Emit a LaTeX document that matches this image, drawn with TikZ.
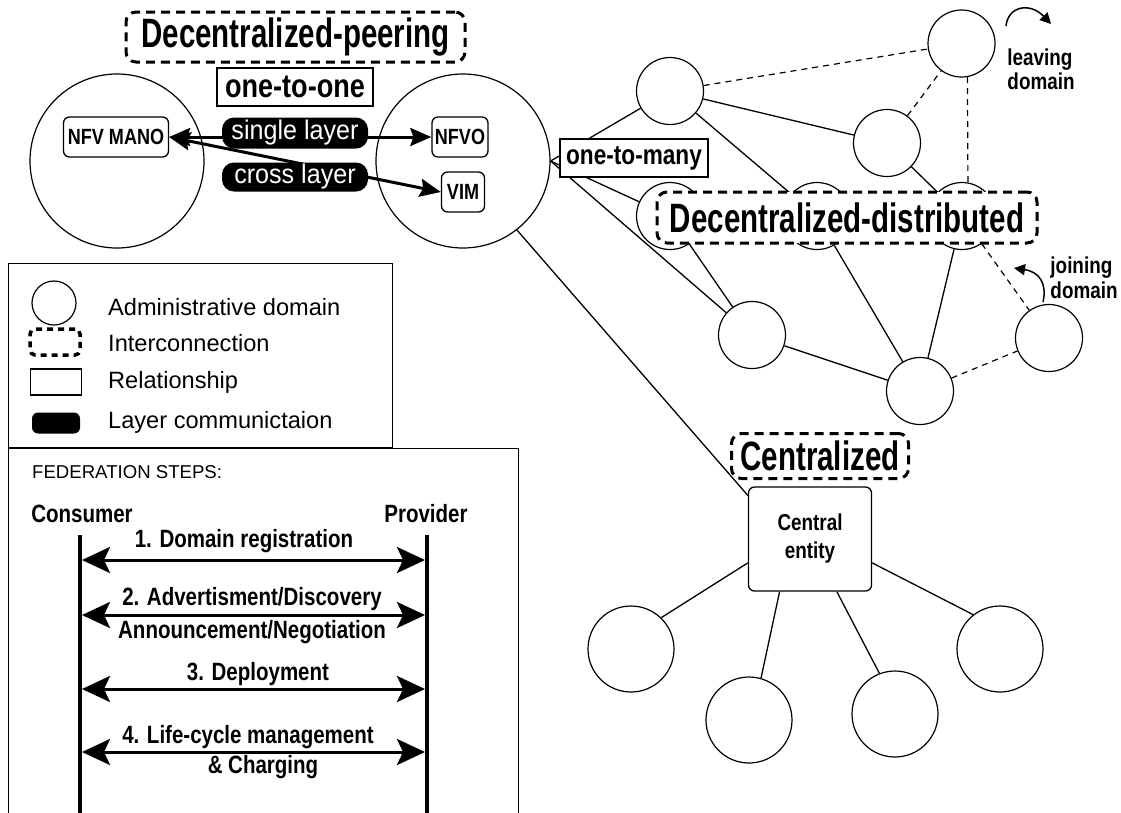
\documentclass[tikz,border=0pt]{standalone}
\usepackage{fontspec}
\setmainfont{Liberation Sans}
\newfontfamily\nbfont[FakeStretch=0.82]{Liberation Sans}
\newfontfamily\ttlfont[FakeStretch=0.72]{Liberation Sans}
\newfontfamily\nrfont[FakeStretch=0.93]{Liberation Sans}
\usetikzlibrary{arrows.meta,calc}
\pgfdeclarelayer{background}
\pgfsetlayers{background,main}
\tikzset{
  dom/.style={circle, draw, line width=1.2pt, inner sep=0pt},
  ttlbox/.style={draw, fill=white, line width=3pt, dash pattern=on 9pt off 6pt, rounded corners=10pt, inner sep=0pt, font=\ttlfont\bfseries\fontsize{41}{45}\selectfont},
  relbox/.style={draw, fill=white, line width=1.3pt, inner sep=0pt},
  fnbox/.style={draw, fill=white, line width=1.3pt, rounded corners=6pt, inner sep=0pt, minimum height=40pt, font=\nbfont\bfseries\fontsize{22}{26}\selectfont},
  pill/.style={fill=black, text=white, rounded corners=12pt, inner sep=0pt, minimum width=146pt, font=\nrfont\fontsize{27}{30}\selectfont},
  pa/.style={line width=3pt, arrows={Stealth[length=21pt,width=18pt,inset=3pt]-Stealth[length=21pt,width=18pt,inset=3pt]}},
  net/.style={line width=1.3pt},
  netd/.style={line width=1.2pt, dash pattern=on 6pt off 5pt},
  curv/.style={line width=1.5pt, arrows={-Triangle[length=11pt,width=11pt]}},
  nb/.style={font=\nbfont\bfseries\fontsize{25}{28}\selectfont, inner sep=0pt},
  legtxt/.style={font=\fontsize{23.6}{26}\selectfont, inner sep=0pt, anchor=base west},
  life/.style={line width=4pt},
  sa/.style={line width=3pt, arrows={Stealth[length=28pt,width=26pt,inset=6pt]-Stealth[length=28pt,width=26pt,inset=6pt]}}
}
\begin{document}
\begin{tikzpicture}[x=1pt,y=-1pt]
\useasboundingbox (0,0) rectangle (1121,812);

% administrative domains (peering)
\node[dom, minimum size=174pt] (lc) at (117,161) {};
\node[dom, minimum size=174pt] (rc) at (463,161) {};

% decentralized-distributed network
\node[dom, minimum size=67pt] (na) at (670,91) {};
\node[dom, minimum size=67pt] (nl) at (961.5,43.5) {};
\node[dom, minimum size=67pt] (nb) at (887,143) {};
\node[dom, minimum size=67pt] (c1) at (670,216) {};
\node[dom, minimum size=67pt] (c2) at (817,216) {};
\node[dom, minimum size=67pt] (c3) at (962,216) {};
\node[dom, minimum size=67pt] (nd) at (752,335) {};
\node[dom, minimum size=67pt] (ne) at (920,391) {};
\node[dom, minimum size=67pt] (nj) at (1049,338) {};

% centralized
\node[draw, fill=white, line width=1.3pt, rounded corners=6pt, minimum width=123pt, minimum height=104pt, inner sep=0pt, align=center, font=\nbfont\bfseries\fontsize{23}{28}\selectfont] (ce) at (810,539) {Central\\entity};
\node[dom, minimum size=86pt] (b1) at (631,649) {};
\node[dom, minimum size=86pt] (b2) at (749,720) {};
\node[dom, minimum size=86pt] (b3) at (895,714) {};
\node[dom, minimum size=86pt] (b4) at (1000,649) {};

% function boxes
\node[fnbox, minimum width=105pt] (mano) at (116,137) {NFV MANO};
\node[fnbox, minimum width=56pt] (nfvo) at (460,137) {NFVO};
\node[fnbox, minimum width=43pt] (vim) at (463,192) {VIM};

% layer pills
\node[pill, minimum height=31pt] (sl) at (295,133) {single layer};
\node[pill, minimum height=29pt] (cl) at (295,177) {cross layer};

% relationship boxes
\node[relbox, minimum width=156pt, minimum height=38pt, font=\nbfont\bfseries\fontsize{33}{36}\selectfont] (o2o) at (295,87) {one-to-one};
\node[relbox, minimum width=148pt, minimum height=38pt, font=\nbfont\bfseries\fontsize{27.6}{30}\selectfont] (o2m) at (634,158) {one-to-many};

% interconnection titles
\node[ttlbox, minimum width=339pt, minimum height=50pt] (tp) at (295.5,37) {Decentralized-peering};
\node[ttlbox, minimum width=380pt, minimum height=51pt] (td) at (847,217.5) {Decentralized-distributed};
\node[ttlbox, minimum width=177pt, minimum height=45pt] (tc) at (820,456) {Centralized};

% leaving / joining
\node[nb, font=\nbfont\bfseries\fontsize{23}{24}\selectfont, align=left] (lvt) at (1041,69) {leaving\\domain};
\node[nb, font=\nbfont\bfseries\fontsize{23}{25}\selectfont, align=left] (jnt) at (1084,278) {joining\\domain};
\coordinate (lvs) at (1006,26);
\coordinate (lve) at (1051,24);
\coordinate (jns) at (1043,302);
\coordinate (jne) at (1014,268);
\draw[curv] (lvs) .. controls (1008,6) and (1030,2) .. (lve);
\draw[curv] (jns) .. controls (1047,284) and (1040,272) .. (jne);

\begin{pgfonlayer}{background}
\draw[pa] (mano.east) -- (nfvo.west);
\draw[pa] (mano.east) -- (vim.west);
\draw[net] (rc.east) -- (na);
\draw[net] (rc.east) -- (c1);
\draw[net] (rc.east) -- (nd);
\draw[net] (na) -- (nb);
\draw[net] (na) -- (c2);
\draw[net] (nb) -- (c3);
\draw[net] (c1) -- (nd);
\draw[net] (c2) -- (ne);
\draw[net] (c3) -- (ne);
\draw[net] (nd) -- (ne);
\draw[netd] (na) -- (nl);
\draw[netd] (nb) -- (nl);
\draw[netd] (nl.-80) -- (c3.80);
\draw[netd] (c3) -- (nj);
\draw[netd] (ne) -- (nj);
\draw[net] (rc.-52) -- (ce.145.5);
\draw[net] (ce.201.5) -- (b1.46);
\draw[net] (ce.240) -- (b2.74);
\draw[net] (ce.297) -- (b3.111);
\draw[net] (ce.339) -- (b4.128);
\end{pgfonlayer}

% legend
\node[draw, line width=1.3pt, minimum width=384pt, minimum height=184pt, inner sep=0pt, anchor=north west] (leg) at (8,263) {};
\node[circle, draw, line width=1.2pt, minimum size=44pt, inner sep=0pt] (ic1) at (54,303) {};
\node[draw, line width=3.5pt, dash pattern=on 6pt off 5pt, rounded corners=5pt, minimum width=50pt, minimum height=26pt, inner sep=0pt] (ic2) at (55,342) {};
\node[draw, line width=1.3pt, minimum width=51pt, minimum height=26pt, inner sep=0pt] (ic3) at (56,382) {};
\node[fill=black, rounded corners=6pt, minimum width=48pt, minimum height=21pt, inner sep=0pt] (ic4) at (56,423) {};
\node[legtxt] (lt1) at (108,315) {Administrative domain};
\node[legtxt] (lt2) at (108,351) {Interconnection};
\node[legtxt] (lt3) at (108,388) {Relationship};
\node[legtxt] (lt4) at (108,428) {Layer communictaion};

% federation steps
\node[draw, line width=1.3pt, minimum width=510pt, minimum height=380pt, inner sep=0pt, anchor=north west] (steps) at (8,448) {};
\node[inner sep=0pt, anchor=base west, font=\fontsize{18.6}{21}\selectfont] (fst) at (32,478) {FEDERATION STEPS:};
\node[nb, anchor=base] (cons) at (82,522) {Consumer};
\node[nb, anchor=base] (prov) at (426,522) {Provider};
\coordinate (ctop) at (80,535);
\coordinate (cbot) at (80,815);
\coordinate (ptop) at (427,535);
\coordinate (pbot) at (427,815);
\draw[life] (ctop) -- (cbot);
\draw[life] (ptop) -- (pbot);
\coordinate (s1c) at (82,560);
\coordinate (s1p) at (425,560);
\coordinate (s2c) at (82,615);
\coordinate (s2p) at (425,615);
\coordinate (s3c) at (82,689);
\coordinate (s3p) at (425,689);
\coordinate (s4c) at (82,752);
\coordinate (s4p) at (425,752);
\draw[sa] (s1c) -- (s1p);
\draw[sa] (s2c) -- (s2p);
\draw[sa] (s3c) -- (s3p);
\draw[sa] (s4c) -- (s4p);
\node[nb, anchor=base] (l1) at (244,547) {1. Domain registration};
\node[nb, anchor=base] (l2a) at (252,605) {2. Advertisment/Discovery};
\node[nb, anchor=base] (l2b) at (252,638) {Announcement/Negotiation};
\node[nb, anchor=base] (l3) at (258,680) {3. Deployment};
\node[nb, anchor=base] (l4a) at (248,743) {4. Life-cycle management};
\node[nb, anchor=base] (l4b) at (263,773) {\& Charging};
\end{tikzpicture}
\end{document}
